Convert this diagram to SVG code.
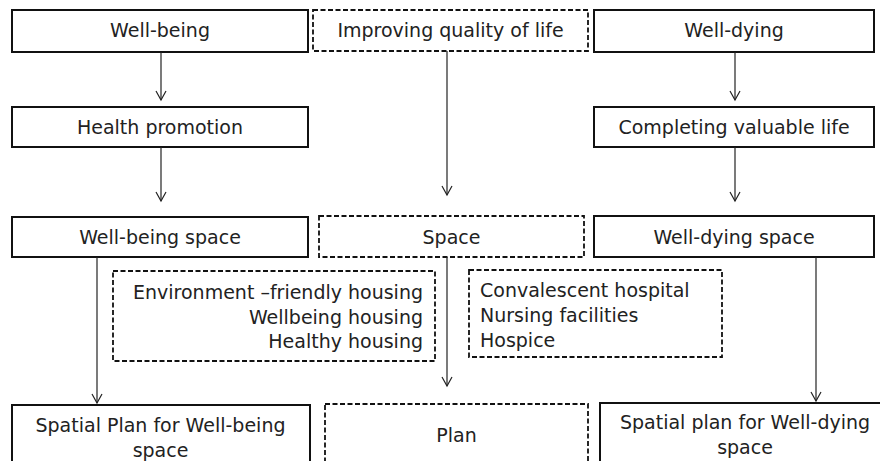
<svg xmlns="http://www.w3.org/2000/svg" width="880" height="461" viewBox="0 0 880 461">
<defs>
<marker id="arr" markerWidth="12" markerHeight="12" refX="10" refY="6" orient="auto" markerUnits="userSpaceOnUse">
<path d="M1,1 L10,6 L1,11" fill="none" stroke="#222" stroke-width="1.2"/>
</marker>
<style>
.solid{fill:#fff;stroke:#111;stroke-width:2}
.dash{fill:#fff;stroke:#111;stroke-width:1.8;stroke-dasharray:5,2.5}
text{font-family:"DejaVu Sans","Noto Sans",sans-serif;font-size:19px;fill:#222}
.c{text-anchor:middle}
.r{text-anchor:end}
.conn line{stroke:#222;stroke-width:1.2;marker-end:url(#arr)}
</style>
</defs>
<rect width="880" height="461" fill="#fff"/>
<g id="well-being"><rect class="solid" x="12" y="10" width="296" height="42"/><text class="c" x="160" y="37">Well-being</text></g>
<g id="improving"><rect class="dash" x="313" y="10" width="275" height="41"/><text class="c" x="450.5" y="37">Improving quality of life</text></g>
<g id="well-dying"><rect class="solid" x="594" y="10" width="280" height="42"/><text class="c" x="734" y="37">Well-dying</text></g>
<g id="health"><rect class="solid" x="12" y="107" width="296" height="40"/><text class="c" x="160" y="134">Health promotion</text></g>
<g id="completing"><rect class="solid" x="594" y="107" width="280" height="40"/><text class="c" x="734" y="134">Completing valuable life</text></g>
<g id="wb-space"><rect class="solid" x="12" y="217" width="296" height="40"/><text class="c" x="160" y="244">Well-being space</text></g>
<g id="space"><rect class="dash" x="319" y="216" width="265" height="41"/><text class="c" x="451.5" y="244">Space</text></g>
<g id="wd-space"><rect class="solid" x="594" y="216" width="280" height="41"/><text class="c" x="734" y="244">Well-dying space</text></g>
<g id="housing"><rect class="dash" x="113" y="271" width="322" height="90"/>
<text class="r" x="423" y="299">Environment –friendly housing</text>
<text class="r" x="423" y="324">Wellbeing housing</text>
<text class="r" x="423" y="348">Healthy housing</text></g>
<g id="facilities"><rect class="dash" x="469" y="270" width="253" height="87"/>
<text x="480" y="297">Convalescent hospital</text>
<text x="480" y="322">Nursing facilities</text>
<text x="480" y="347">Hospice</text></g>
<g id="plan-wb"><rect class="solid" x="12" y="405" width="298" height="70"/><text class="c" x="160.5" y="432">Spatial Plan for Well-being</text><text class="c" x="160.5" y="457">space</text></g>
<g id="plan"><rect class="dash" x="325" y="404" width="263" height="70"/><text class="c" x="456.5" y="442">Plan</text></g>
<g id="plan-wd"><rect class="solid" x="600" y="403" width="290" height="70"/><text class="c" x="745" y="429">Spatial plan for Well-dying</text><text class="c" x="745" y="454">space</text></g>
<g class="conn">
<line x1="161" y1="52" x2="161" y2="100"/>
<line x1="735" y1="52" x2="735" y2="100"/>
<line x1="447" y1="51" x2="447" y2="195"/>
<line x1="161" y1="147" x2="161" y2="201"/>
<line x1="735" y1="147" x2="735" y2="201"/>
<line x1="97" y1="257" x2="97" y2="403"/>
<line x1="447" y1="257" x2="447" y2="386"/>
<line x1="816" y1="257" x2="816" y2="401"/>
</g>
</svg>
